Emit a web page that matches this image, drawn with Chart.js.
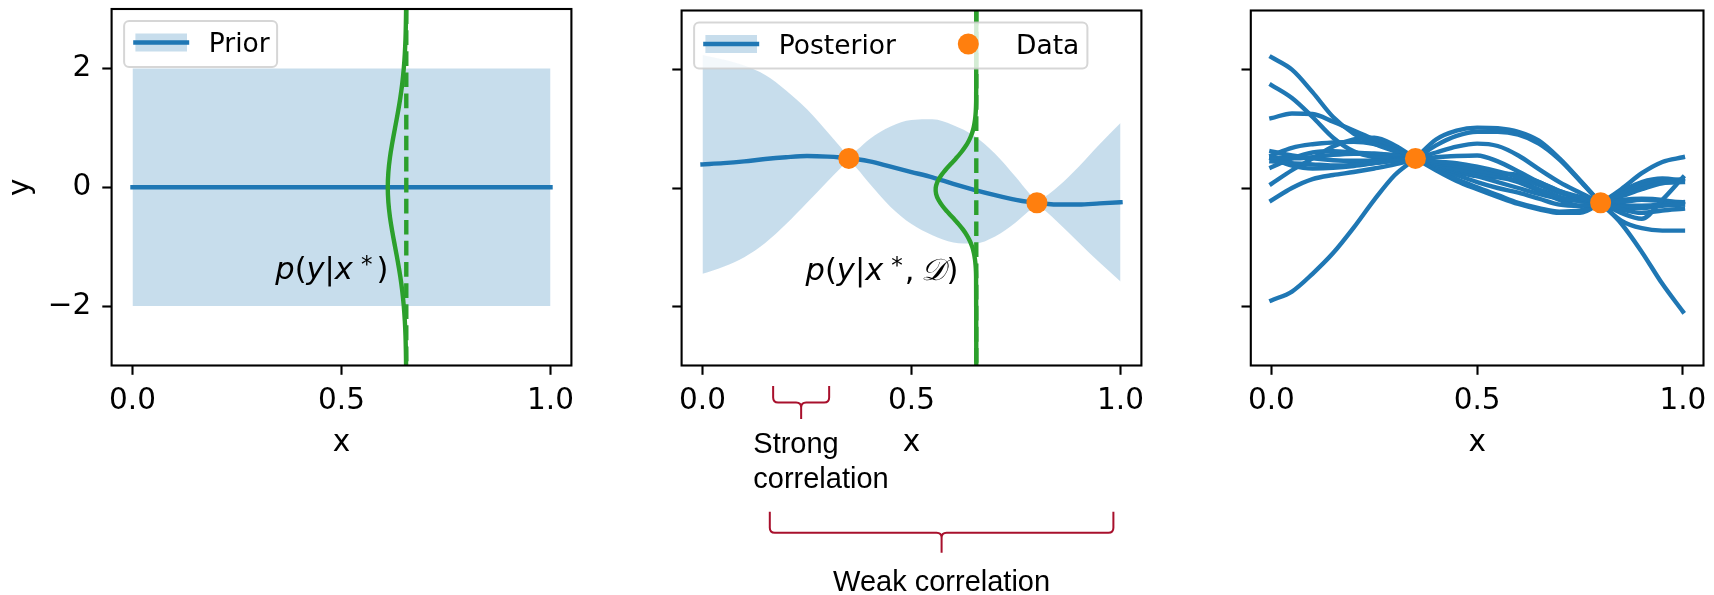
<!DOCTYPE html>
<html>
<head>
<meta charset="utf-8">
<title>Gaussian process prior, posterior and samples</title>
<script src="https://cdn.jsdelivr.net/npm/chart.js@4/dist/chart.umd.min.js"></script>
<style>
  html, body { margin: 0; padding: 0; background: #ffffff; }
  #fig { position: relative; width: 1714px; height: 595px; overflow: hidden; background: #ffffff; }
  #fig canvas { position: absolute; left: 0; top: 0; }
</style>
</head>
<body>
<div id="fig">
  <canvas id="priorChart" width="1714" height="595"></canvas>
  <canvas id="posteriorChart" width="1714" height="595"></canvas>
  <canvas id="samplesChart" width="1714" height="595"></canvas>
</div>
<script>
// ---------------- values ----------------
const xTicks = [0, 0.5, 1];
const yTicks = [-2, 0, 2];

// prior: zero mean, +-2 sd band
const priorX = [0, 1];
const priorMean = [0, 0];
const priorUpper = [2, 2];
const priorLower = [-2, -2];

// observations
const dataX = [0.35, 0.8];
const dataY = [0.5, -0.25];

// posterior mean and +-2 sd band
const postX     = [0, 0.05, 0.1, 0.15, 0.2, 0.25, 0.3, 0.33, 0.35, 0.37, 0.4, 0.45, 0.5, 0.55, 0.6, 0.65, 0.7, 0.75, 0.78, 0.8, 0.82, 0.85, 0.9, 0.95, 1];
const postMean  = [0.40, 0.42, 0.45, 0.49, 0.52, 0.54, 0.53, 0.515, 0.50, 0.485, 0.45, 0.36, 0.27, 0.18, 0.07, -0.03, -0.12, -0.20, -0.235, -0.25, -0.265, -0.28, -0.28, -0.26, -0.24];
const postUpper = [2.25, 2.17, 2.07, 1.91, 1.65, 1.33, 0.94, 0.695, 0.54, 0.645, 0.83, 1.04, 1.15, 1.16, 1.06, 0.88, 0.58, 0.18, -0.075, -0.21, -0.145, 0.02, 0.36, 0.74, 1.10];
const postLower = [-1.45, -1.33, -1.17, -0.93, -0.61, -0.25, 0.12, 0.335, 0.46, 0.325, 0.07, -0.32, -0.61, -0.80, -0.92, -0.94, -0.82, -0.58, -0.395, -0.29, -0.385, -0.58, -0.92, -1.26, -1.58];

// predictive density at the test input, drawn sideways
const xStar = 0.655;
const priorCurveY = [-3, -2.75, -2.5, -2.25, -2, -1.75, -1.5, -1.25, -1, -0.75, -0.5, -0.25, 0, 0.25, 0.5, 0.75, 1, 1.25, 1.5, 1.75, 2, 2.25, 2.5, 2.75, 3];
const priorCurveX = [0.6545, 0.654, 0.6531, 0.6515, 0.649, 0.6454, 0.6406, 0.6347, 0.6281, 0.6216, 0.6159, 0.6121, 0.6107, 0.6121, 0.6159, 0.6216, 0.6281, 0.6347, 0.6406, 0.6454, 0.649, 0.6515, 0.6531, 0.654, 0.6545];
const postCurveY = [-3, -1.5, -1.4, -1.3, -1.2, -1.1, -1, -0.9, -0.8, -0.7, -0.6, -0.5, -0.4, -0.3, -0.2, -0.1, 0, 0.1, 0.2, 0.3, 0.4, 0.5, 0.6, 0.7, 0.8, 0.9, 1, 1.1, 1.2, 1.3, 1.4, 1.5, 3];
const postCurveX = [0.655, 0.6545, 0.6541, 0.6532, 0.6517, 0.6492, 0.6455, 0.64, 0.6325, 0.6229, 0.6114, 0.5986, 0.5856, 0.5737, 0.5644, 0.5589, 0.5579, 0.5617, 0.5696, 0.5807, 0.5933, 0.6064, 0.6185, 0.6289, 0.6372, 0.6435, 0.6479, 0.6508, 0.6527, 0.6538, 0.6544, 0.6547, 0.655];

// posterior function draws
const sampleX  = [0, 0.05, 0.1, 0.15, 0.2, 0.25, 0.3, 0.35, 0.4, 0.45, 0.5, 0.55, 0.6, 0.65, 0.7, 0.75, 0.8, 0.85, 0.9, 0.95, 1];
const sample01 = [-1.9, -1.75, -1.45, -1.1, -0.67, -0.2, 0.22, 0.5, 0.82, 0.97, 1.02, 1.01, 0.95, 0.8, 0.5, 0.13, -0.25, -0.6, -1.08, -1.62, -2.09];
const sample02 = [-0.21, 0.0, 0.15, 0.22, 0.27, 0.33, 0.4, 0.5, 0.72, 0.88, 0.95, 0.95, 0.9, 0.75, 0.48, 0.12, -0.25, -0.55, -0.68, -0.72, -0.72];
const sample03 = [0.45, 0.42, 0.40, 0.38, 0.39, 0.42, 0.46, 0.5, 0.6, 0.7, 0.75, 0.71, 0.55, 0.32, 0.1, -0.08, -0.25, -0.42, -0.52, -0.2, 0.18];
const sample04 = [0.5, 0.38, 0.33, 0.34, 0.37, 0.42, 0.47, 0.5, 0.52, 0.54, 0.55, 0.45, 0.28, 0.1, -0.05, -0.15, -0.25, -0.36, -0.42, -0.38, -0.35];
const sample05 = [0.62, 0.55, 0.5, 0.47, 0.46, 0.46, 0.48, 0.5, 0.45, 0.42, 0.36, 0.28, 0.18, 0.05, -0.08, -0.18, -0.25, -0.32, -0.34, -0.3, -0.28];
const sample06 = [1.74, 1.52, 1.2, 0.85, 0.62, 0.52, 0.5, 0.5, 0.42, 0.38, 0.3, 0.25, 0.22, 0.1, -0.05, -0.18, -0.25, -0.3, -0.3, -0.28, -0.24];
const sample07 = [0.52, 0.5, 0.52, 0.56, 0.58, 0.58, 0.55, 0.5, 0.4, 0.32, 0.26, 0.2, 0.12, -0.02, -0.15, -0.22, -0.25, -0.24, -0.2, -0.22, -0.24];
const sample08 = [0.35, 0.5, 0.6, 0.62, 0.6, 0.58, 0.55, 0.5, 0.38, 0.3, 0.2, 0.1, 0.0, -0.1, -0.18, -0.22, -0.25, -0.2, -0.18, -0.2, -0.27];
const sample09 = [2.21, 2.0, 1.62, 1.2, 0.92, 0.75, 0.62, 0.5, 0.36, 0.27, 0.2, 0.18, 0.1, -0.05, -0.2, -0.3, -0.25, -0.14, -0.02, 0.08, 0.1];
const sample10 = [0.55, 0.68, 0.74, 0.77, 0.78, 0.74, 0.64, 0.5, 0.35, 0.22, 0.1, 0.0, -0.08, -0.18, -0.28, -0.3, -0.25, -0.1, 0.04, 0.12, 0.15];
const sample11 = [1.18, 1.26, 1.25, 1.12, 0.97, 0.82, 0.66, 0.5, 0.32, 0.15, 0.01, -0.12, -0.25, -0.34, -0.4, -0.38, -0.25, -0.06, 0.1, 0.16, 0.12];
const sample12 = [0.07, 0.3, 0.5, 0.7, 0.82, 0.85, 0.72, 0.5, 0.3, 0.12, -0.02, -0.15, -0.27, -0.36, -0.42, -0.42, -0.25, -0.02, 0.25, 0.44, 0.52];
const samples = [sample01, sample02, sample03, sample04, sample05, sample06, sample07, sample08, sample09, sample10, sample11, sample12];

// ---------------- styling ----------------
const BLUE = '#1f77b4';
const BAND = 'rgba(31,119,180,0.25)';
const GREEN = '#2ca02c';
const ORANGE = '#ff7f0e';
const BRACE = '#a8102c';
const LW = 4.4;
const TICK_FONT = { family: 'DejaVu Sans', size: 29.5 };
const LEGEND_FONT = '26.5px "DejaVu Sans"';
const NOTE_FONT = '29px "Liberation Sans"';

const FIG_W = 1714, FIG_H = 595;
const AREA_TOP = 9, AREA_BOTTOM = 365.5, AREA_W = 459.8;
const AXIS_W = 111.6, AXIS_H = 99;

const pts = (xs, ys) => xs.map((x, i) => ({ x: x, y: ys[i] }));
const fmtY = v => (v < 0 ? '\u2212' + Math.abs(v) : String(v));

// ---------------- plugins ----------------
const framePlugin = {
  id: 'frame',
  afterDatasetsDraw(chart) {
    const { ctx, chartArea: a } = chart;
    ctx.save();
    ctx.strokeStyle = '#000';
    ctx.lineWidth = 2.1;
    ctx.strokeRect(a.left, a.top, a.right - a.left, a.bottom - a.top);
    ctx.restore();
  }
};

function roundRectPath(ctx, x, y, w, h, r) {
  ctx.beginPath();
  ctx.moveTo(x + r, y);
  ctx.arcTo(x + w, y, x + w, y + h, r);
  ctx.arcTo(x + w, y + h, x, y + h, r);
  ctx.arcTo(x, y + h, x, y, r);
  ctx.arcTo(x, y, x + w, y, r);
  ctx.closePath();
}

// legend box drawn inside the plot area, labels taken from the datasets
const boxLegendPlugin = {
  id: 'boxLegend',
  afterDraw(chart, args, opts) {
    if (!opts || !opts.entries) return;
    const { ctx, chartArea: a } = chart;
    const ds = chart.data.datasets;
    ctx.save();
    roundRectPath(ctx, a.left + 12.5, a.top + 12, opts.width, 46, 5);
    ctx.fillStyle = 'rgba(255,255,255,0.8)';
    ctx.fill();
    ctx.strokeStyle = 'rgba(204,204,204,0.8)';
    ctx.lineWidth = 2;
    ctx.stroke();
    ctx.font = LEGEND_FONT;
    ctx.textBaseline = 'alphabetic';
    ctx.textAlign = 'left';
    for (const e of opts.entries) {
      if (e.kind === 'band') {
        ctx.fillStyle = BAND;
        ctx.fillRect(a.left + e.handleX + 2.4, a.top + 24.5, 51.6, 18);
        ctx.strokeStyle = BLUE;
        ctx.lineWidth = LW;
        ctx.lineCap = 'square';
        ctx.beginPath();
        ctx.moveTo(a.left + e.handleX + 2.4, a.top + 33.5);
        ctx.lineTo(a.left + e.handleX + 54, a.top + 33.5);
        ctx.stroke();
      } else {
        ctx.fillStyle = ORANGE;
        ctx.beginPath();
        ctx.arc(a.left + e.handleX, a.top + 33.5, 10.5, 0, Math.PI * 2);
        ctx.fill();
      }
      ctx.fillStyle = '#000';
      ctx.fillText(ds[e.dataset].label, a.left + e.textX, a.top + 43.2);
    }
    ctx.restore();
  }
};

// math-style label: italic variables, upright brackets, raised star
const mathLabelPlugin = {
  id: 'mathLabel',
  afterDatasetsDraw(chart, args, opts) {
    if (!opts || !opts.segments) return;
    const { ctx, scales } = chart;
    const size = 30.5;
    const fonts = {
      i: 'italic ' + size + 'px "DejaVu Sans"',
      n: size + 'px "DejaVu Sans"',
      s: Math.round(size * 0.75) + 'px "DejaVu Sans"',
      c: 'italic ' + size + 'px "DejaVu Serif"'
    };
    ctx.save();
    let total = 0;
    for (const s of opts.segments) {
      ctx.font = fonts[s[1]];
      total += ctx.measureText(s[0]).width + s[2];
    }
    let x = scales.x.getPixelForValue(opts.x) - total;
    const base = scales.y.getPixelForValue(opts.y);
    ctx.fillStyle = '#000';
    ctx.textBaseline = 'alphabetic';
    ctx.textAlign = 'left';
    for (const s of opts.segments) {
      ctx.font = fonts[s[1]];
      ctx.fillText(s[0], x, s[1] === 's' ? base - 7 : base);
      x += ctx.measureText(s[0]).width + s[2];
    }
    ctx.restore();
  }
};

// curly braces and notes under the middle panel
const bracesPlugin = {
  id: 'braces',
  afterDraw(chart, args, opts) {
    if (!opts || !opts.items) return;
    const { ctx, scales } = chart;
    ctx.save();
    ctx.strokeStyle = BRACE;
    ctx.lineWidth = 2;
    ctx.lineCap = 'butt';
    ctx.lineJoin = 'round';
    for (const b of opts.items) {
      const x1 = scales.x.getPixelForValue(b.from);
      const x2 = scales.x.getPixelForValue(b.to);
      const xc = (x1 + x2) / 2;
      const r = 5;
      ctx.beginPath();
      ctx.moveTo(x1, b.top);
      ctx.lineTo(x1, b.mid - r);
      ctx.quadraticCurveTo(x1, b.mid, x1 + r, b.mid);
      ctx.lineTo(xc - r, b.mid);
      ctx.quadraticCurveTo(xc, b.mid, xc, b.mid + r);
      ctx.lineTo(xc, b.tip);
      ctx.moveTo(x2, b.top);
      ctx.lineTo(x2, b.mid - r);
      ctx.quadraticCurveTo(x2, b.mid, x2 - r, b.mid);
      ctx.lineTo(xc + r, b.mid);
      ctx.quadraticCurveTo(xc, b.mid, xc, b.mid + r);
      ctx.stroke();
    }
    ctx.font = NOTE_FONT;
    ctx.fillStyle = '#000';
    ctx.textBaseline = 'alphabetic';
    for (const t of opts.notes) {
      ctx.textAlign = t.align;
      const x = scales.x.getPixelForValue(t.x);
      t.lines.forEach((line, i) => ctx.fillText(line, x, t.baseline + i * 35));
    }
    ctx.restore();
  }
};

// ---------------- shared axis set-up ----------------
function makeOptions(left, showYLabels, pluginOpts) {
  return {
    responsive: false,
    animation: false,
    devicePixelRatio: 1,
    events: [],
    layout: {
      padding: {
        left: left - AXIS_W,
        right: FIG_W - left - AREA_W,
        top: AREA_TOP,
        bottom: FIG_H - AREA_BOTTOM - AXIS_H
      }
    },
    elements: { point: { radius: 0 } },
    plugins: Object.assign({ legend: { display: false }, tooltip: { enabled: false } }, pluginOpts),
    scales: {
      x: {
        type: 'linear', min: -0.05, max: 1.05,
        afterFit(s) { s.height = AXIS_H; s.paddingLeft = 0; s.paddingRight = 0; },
        afterBuildTicks(s) { s.ticks = xTicks.map(v => ({ value: v })); },
        ticks: { callback: v => Number(v).toFixed(1), font: TICK_FONT, color: '#000', padding: 8.6, maxRotation: 0, autoSkip: false },
        grid: { drawOnChartArea: false, drawTicks: true, tickLength: 9.3, tickWidth: 2.1, tickColor: '#000' },
        border: { display: false },
        title: { display: true, text: 'x', font: TICK_FONT, color: '#000', padding: { top: 0, bottom: 3 } }
      },
      y: {
        type: 'linear', min: -3, max: 3,
        afterFit(s) { s.width = AXIS_W; s.paddingTop = 0; s.paddingBottom = 0; },
        afterBuildTicks(s) { s.ticks = yTicks.map(v => ({ value: v })); },
        ticks: { callback: v => (showYLabels ? fmtY(v) : ''), font: TICK_FONT, color: '#000', padding: 11, autoSkip: false },
        grid: { drawOnChartArea: false, drawTicks: true, tickLength: 9.3, tickWidth: 2.1, tickColor: '#000' },
        border: { display: false },
        title: { display: showYLabels, text: 'y', font: TICK_FONT, color: '#000', padding: { top: 3.4, bottom: 0 } }
      }
    }
  };
}

const lineDefaults = { pointRadius: 0, fill: false, tension: 0.4 };
const smooth = { pointRadius: 0, cubicInterpolationMode: 'monotone' };

// ---------------- panel 1: prior ----------------
new Chart(document.getElementById('priorChart'), {
  type: 'line',
  data: {
    datasets: [
      Object.assign({ label: 'p(y|x*)', data: pts(priorCurveX, priorCurveY), borderColor: GREEN, borderWidth: LW }, lineDefaults),
      Object.assign({ label: 'x*', data: pts([xStar, xStar], [3, -3]), borderColor: GREEN, borderWidth: LW, borderDash: [14.7, 6.4], borderCapStyle: 'butt' }, lineDefaults),
      Object.assign({ label: 'Prior', data: pts(priorX, priorMean), borderColor: BLUE, borderWidth: LW, borderCapStyle: 'square' }, lineDefaults),
      { label: 'prior upper', data: pts(priorX, priorUpper), borderWidth: 0, pointRadius: 0, backgroundColor: BAND, fill: '+1' },
      { label: 'prior lower', data: pts(priorX, priorLower), borderWidth: 0, pointRadius: 0, fill: false }
    ]
  },
  options: makeOptions(111.6, true, {
    boxLegend: { width: 153, entries: [{ kind: 'band', dataset: 2, handleX: 21.4, textX: 97.2 }] },
    mathLabel: { x: 0.612, y: -1.55, segments: [['p', 'i', 0], ['(', 'n', 0], ['y', 'i', 0], ['|', 'n', 0], ['x', 'i', 8], ['*', 's', 4], [')', 'n', 0]] }
  }),
  plugins: [framePlugin, boxLegendPlugin, mathLabelPlugin]
});

// ---------------- panel 2: posterior ----------------
new Chart(document.getElementById('posteriorChart'), {
  type: 'line',
  data: {
    datasets: [
      { label: 'Data', data: pts(dataX, dataY), showLine: false, pointRadius: 10.5, pointBackgroundColor: ORANGE, pointBorderColor: ORANGE, pointBorderWidth: 0 },
      Object.assign({ label: 'p(y|x*,D)', data: pts(postCurveX, postCurveY), borderColor: GREEN, borderWidth: LW }, lineDefaults),
      Object.assign({ label: 'x*', data: pts([xStar, xStar], [3, -3]), borderColor: GREEN, borderWidth: LW, borderDash: [14.7, 6.4], borderCapStyle: 'butt' }, lineDefaults),
      Object.assign({ label: 'Posterior', data: pts(postX, postMean), borderColor: BLUE, borderWidth: LW, borderCapStyle: 'square', fill: false }, smooth),
      Object.assign({ label: 'posterior upper', data: pts(postX, postUpper), borderWidth: 0, backgroundColor: BAND, fill: '+1' }, smooth),
      Object.assign({ label: 'posterior lower', data: pts(postX, postLower), borderWidth: 0, fill: false }, smooth)
    ]
  },
  options: makeOptions(681.6, false, {
    boxLegend: { width: 393.3, entries: [
      { kind: 'band', dataset: 3, handleX: 21.4, textX: 97.2 },
      { kind: 'marker', dataset: 0, handleX: 286.7, textX: 334.4 }
    ] },
    mathLabel: { x: 0.612, y: -1.55, segments: [['p', 'i', 0], ['(', 'n', 0], ['y', 'i', 0], ['|', 'n', 0], ['x', 'i', 8], ['*', 's', 2], [',', 'n', 7], ['\u{1D49F}', 'c', 1], [')', 'n', 0]] },
    braces: {
      items: [
        { from: 0.169, to: 0.303, top: 386, mid: 402.5, tip: 419 },
        { from: 0.161, to: 0.983, top: 511.7, mid: 532.7, tip: 552.7 }
      ],
      notes: [
        { lines: ['Strong', 'correlation'], x: 0.1215, align: 'left', baseline: 453.3 },
        { lines: ['Weak correlation'], x: 0.572, align: 'center', baseline: 591 }
      ]
    }
  }),
  plugins: [framePlugin, boxLegendPlugin, mathLabelPlugin, bracesPlugin]
});

// ---------------- panel 3: posterior samples ----------------
const sampleSets = samples.map((s, i) => Object.assign({
  label: 'sample ' + (i + 1), data: pts(sampleX, s), borderColor: BLUE, borderWidth: LW,
  borderCapStyle: 'square', borderJoinStyle: 'round', fill: false
}, smooth));

new Chart(document.getElementById('samplesChart'), {
  type: 'line',
  data: {
    datasets: [
      { label: 'Data', data: pts(dataX, dataY), showLine: false, pointRadius: 10.5, pointBackgroundColor: ORANGE, pointBorderColor: ORANGE, pointBorderWidth: 0 }
    ].concat(sampleSets)
  },
  options: makeOptions(1250.8, false, {}),
  plugins: [framePlugin]
});
</script>
</body>
</html>
